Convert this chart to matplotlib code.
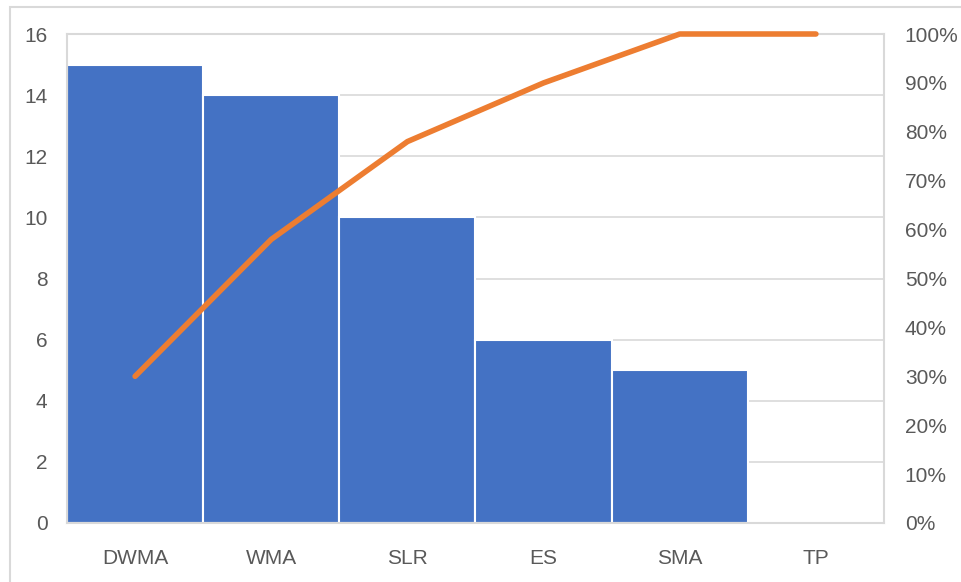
import matplotlib as mpl
mpl.use('Agg')
import matplotlib.pyplot as plt
import numpy as np

categories = ['DWMA', 'WMA', 'SLR', 'ES', 'SMA', 'TP']
counts = [15, 14, 10, 6, 5, 0]
cum_pct = np.cumsum(counts) / np.sum(counts) * 100

left_ticks = list(range(0, 17, 2))
right_ticks = list(range(0, 101, 10))

plt.rcParams['font.family'] = ['Liberation Sans', 'DejaVu Sans']
grey = '#595959'
light = '#D9D9D9'

fig = plt.figure(figsize=(9.61, 5.82), dpi=100)
# outer chart border
fig.patches.append(plt.Rectangle((10/961, -0.01), 1.0, 1 - 7/582 + 0.01,
                                 transform=fig.transFigure, fill=False,
                                 edgecolor=light, linewidth=1.5))

ax = fig.add_axes([67/961, 59/582, (884-67)/961, (523-34)/582])
x = np.arange(len(categories))
ax.bar(x, counts, width=1.0, color='#4472C4', edgecolor='white', linewidth=1.5, zorder=2)
ax.set_xlim(-0.5, len(categories) - 0.5)
ax.set_ylim(0, 16)
ax.set_yticks(left_ticks)
ax.set_xticks(x)
ax.set_xticklabels(categories)
ax.yaxis.grid(True, color=light, linewidth=1.2, zorder=0)
ax.set_axisbelow(True)
for s in ax.spines.values():
    s.set_color(light)
    s.set_linewidth(1.5)
ax.tick_params(axis='both', length=0, labelsize=15, colors=grey)
ax.tick_params(axis='y', pad=14)
ax.tick_params(axis='x', pad=19)

ax2 = ax.twinx()
ax2.plot(x, cum_pct, color='#ED7D31', linewidth=4, solid_capstyle='round',
         solid_joinstyle='round', clip_on=False)
ax2.set_ylim(0, 100)
ax2.set_yticks(right_ticks)
ax2.set_yticklabels(['{}%'.format(t) for t in right_ticks])
ax2.tick_params(axis='y', length=0, labelsize=15, colors=grey, pad=15)
for s in ax2.spines.values():
    s.set_visible(False)

fig.savefig('out.png', dpi=100)
